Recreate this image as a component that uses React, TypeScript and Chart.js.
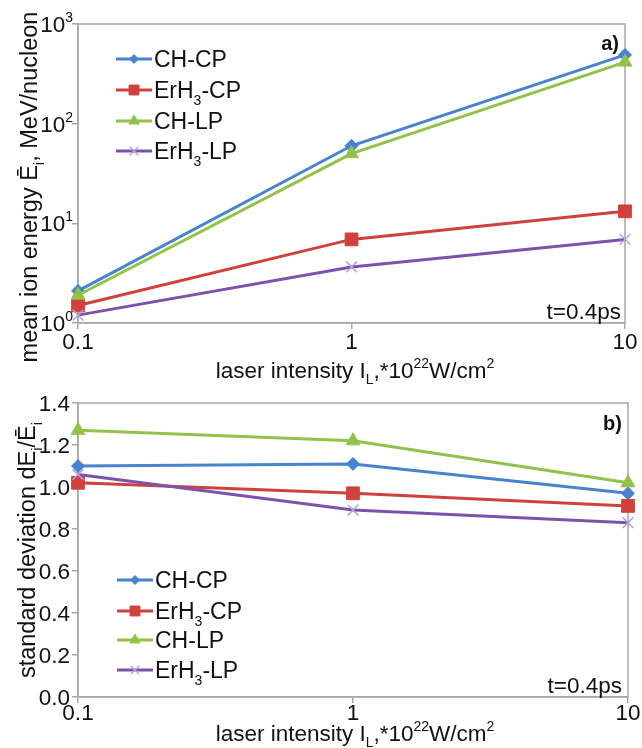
import { useEffect, useRef } from 'react';
import { Chart, registerables } from 'chart.js';
import { drawPoint } from 'chart.js/helpers';

Chart.register(...registerables);

// Laser intensity, in units of 10^22 W/cm^2
const intensity = [0.1, 1, 10];
const xTickValues = [0.1, 1, 10];

// a) mean ion energy, MeV/nucleon
const meanCHCP = [2.1, 60, 490];
const meanErH3CP = [1.5, 6.9, 13.2];
const meanCHLP = [1.9, 50, 415];
const meanErH3LP = [1.2, 3.65, 6.9];
const meanTickValues = [1, 10, 100, 1000];

// b) relative standard deviation dE/E
const sdCHCP = [1.1, 1.11, 0.97];
const sdErH3CP = [1.02, 0.97, 0.91];
const sdCHLP = [1.27, 1.22, 1.02];
const sdErH3LP = [1.06, 0.89, 0.83];
const sdTickValues = [0, 0.2, 0.4, 0.6, 0.8, 1.0, 1.2, 1.4];

const timeLabel = 't=0.4ps';

type Seg = { t: string; v?: 'sub' | 'sup' };

const FONT = '"Liberation Sans", Arial, sans-serif';
const TEXT = '#111111';
const AXIS = '#a8a8a8';

type Series = {
  name: Seg[];
  color: string;
  markerColor: string;
  style: 'rectRot' | 'rect' | 'triangle' | 'crossRot';
  radius: number;
  legendRadius: number;
  markerBorder: number;
};

const seriesStyles: Series[] = [
  { name: [{ t: 'CH-CP' }], color: '#4783cf', markerColor: '#4783cf', style: 'rectRot', radius: 6.5, legendRadius: 4.5, markerBorder: 1 },
  { name: [{ t: 'ErH' }, { t: '3', v: 'sub' }, { t: '-CP' }], color: '#d0403d', markerColor: '#d0403d', style: 'rect', radius: 9, legendRadius: 7, markerBorder: 1 },
  { name: [{ t: 'CH-LP' }], color: '#92c24a', markerColor: '#92c24a', style: 'triangle', radius: 8, legendRadius: 6, markerBorder: 1 },
  { name: [{ t: 'ErH' }, { t: '3', v: 'sub' }, { t: '-LP' }], color: '#7c52ad', markerColor: '#b7a2da', style: 'crossRot', radius: 7.5, legendRadius: 6, markerBorder: 1.5 },
];

function segFont(size: number, v: Seg['v'], bold: boolean) {
  const s = v ? Math.round(size * 0.62) : size;
  return `${bold ? 'bold ' : ''}${s}px ${FONT}`;
}

function richWidth(ctx: CanvasRenderingContext2D, segs: Seg[], size: number, bold: boolean) {
  let w = 0;
  for (const s of segs) {
    ctx.font = segFont(size, s.v, bold);
    w += ctx.measureText(s.t).width;
  }
  return w;
}

// Draws a run of text with sub/superscript pieces; y is the vertical centre of the capitals.
function drawRich(
  ctx: CanvasRenderingContext2D,
  segs: Seg[],
  x: number,
  y: number,
  align: 'left' | 'center' | 'right',
  size: number,
  bold = false,
) {
  const w = richWidth(ctx, segs, size, bold);
  let cx = align === 'left' ? x : align === 'right' ? x - w : x - w / 2;
  const base = y + size * 0.36;
  ctx.textAlign = 'left';
  ctx.textBaseline = 'alphabetic';
  ctx.fillStyle = TEXT;
  for (const s of segs) {
    ctx.font = segFont(size, s.v, bold);
    const dy = s.v === 'sub' ? size * 0.28 : s.v === 'sup' ? -size * 0.45 : 0;
    ctx.fillText(s.t, cx, base + dy);
    cx += ctx.measureText(s.t).width;
  }
}

type PanelText = {
  yTitle: Seg[];
  yTitleX: number;
  yTitleY: number;
  xTitle: Seg[];
  xTitleX: number;
  xTitleY: number;
  xTickY: number;
  yTickRight: number;
  yTickLabel: (v: number) => Seg[];
  tag: string;
  tagX: number;
  tagY: number;
  timeX: number;
  timeY: number;
  legendY: number[];
  legendX0: number;
  legendX1: number;
  legendTextX: number;
};

const xTitle: Seg[] = [
  { t: 'laser intensity I' },
  { t: 'L', v: 'sub' },
  { t: ',*10' },
  { t: '22', v: 'sup' },
  { t: 'W/cm' },
  { t: '2', v: 'sup' },
];

const TICK_SIZE = 22.5;
const TITLE_SIZE = 22.5;
const LEGEND_SIZE = 23;

function panelPlugin(id: string, p: PanelText) {
  return {
    id,
    beforeDatasetsDraw(chart: Chart) {
      const { ctx, chartArea: a } = chart;
      ctx.save();
      ctx.strokeStyle = AXIS;
      ctx.lineWidth = 1.5;
      ctx.strokeRect(a.left, a.top, a.right - a.left, a.bottom - a.top);
      ctx.restore();
    },
    afterDraw(chart: Chart) {
      const { ctx } = chart;
      const xs = chart.scales.x;
      const ys = chart.scales.y;
      ctx.save();
      // tick labels
      for (const t of xs.ticks) {
        drawRich(ctx, [{ t: String(t.value) }], xs.getPixelForValue(t.value), p.xTickY, 'center', TICK_SIZE);
      }
      for (const t of ys.ticks) {
        drawRich(ctx, p.yTickLabel(t.value), p.yTickRight, ys.getPixelForValue(t.value), 'right', TICK_SIZE);
      }
      // axis titles
      drawRich(ctx, p.xTitle, p.xTitleX, p.xTitleY, 'center', TITLE_SIZE);
      ctx.save();
      ctx.translate(p.yTitleX, p.yTitleY);
      ctx.rotate(-Math.PI / 2);
      drawRich(ctx, p.yTitle, 0, 0, 'center', 23.5);
      ctx.restore();
      // panel tag and time stamp
      drawRich(ctx, [{ t: p.tag }], p.tagX, p.tagY, 'right', 20, true);
      drawRich(ctx, [{ t: timeLabel }], p.timeX, p.timeY, 'right', TICK_SIZE);
      // legend
      seriesStyles.forEach((s, i) => {
        const y = p.legendY[i];
        ctx.strokeStyle = s.color;
        ctx.lineWidth = 3;
        ctx.beginPath();
        ctx.moveTo(p.legendX0, y);
        ctx.lineTo(p.legendX1, y);
        ctx.stroke();
        ctx.fillStyle = s.markerColor;
        ctx.strokeStyle = s.markerColor;
        ctx.lineWidth = s.markerBorder;
        drawPoint(ctx, { pointStyle: s.style, radius: s.legendRadius, rotation: 0, borderWidth: s.markerBorder }, (p.legendX0 + p.legendX1) / 2, y);
        drawRich(ctx, s.name, p.legendTextX, y, 'left', LEGEND_SIZE);
      });
      ctx.restore();
    },
  };
}

function makeDatasets(values: number[][]) {
  return seriesStyles.map((s, i) => ({
    label: s.name.map((g) => g.t).join(''),
    data: intensity.map((x, j) => ({ x, y: values[i][j] })),
    // later series sit on top of earlier ones
    order: seriesStyles.length - i,
    borderColor: s.color,
    backgroundColor: s.markerColor,
    pointBackgroundColor: s.markerColor,
    pointBorderColor: s.markerColor,
    pointBorderWidth: s.markerBorder,
    pointStyle: s.style,
    pointRadius: s.radius,
    borderWidth: 3,
    tension: 0,
    clip: false as const,
  }));
}

function axisCommon() {
  return {
    border: { display: true, color: AXIS, width: 1.5 },
    grid: { display: true, drawOnChartArea: false, drawTicks: true, tickLength: 6, color: AXIS, lineWidth: 1.5 },
    ticks: { display: false },
  };
}

function makeConfig(
  values: number[][],
  yScale: Record<string, unknown>,
  paddingTop: number,
  paddingRight: number,
  xAxisHeight: number,
  plugin: ReturnType<typeof panelPlugin>,
) {
  return {
    type: 'line' as const,
    data: { datasets: makeDatasets(values) },
    options: {
      responsive: false,
      animation: false as const,
      devicePixelRatio: 1,
      layout: { padding: { top: paddingTop, right: paddingRight, left: 0, bottom: 0 } },
      plugins: { legend: { display: false }, tooltip: { enabled: false } },
      scales: {
        x: {
          type: 'logarithmic' as const,
          min: 0.1,
          max: 10,
          ...axisCommon(),
          afterBuildTicks: (s: any) => {
            s.ticks = xTickValues.map((v) => ({ value: v }));
          },
          afterFit: (s: any) => {
            s.height = xAxisHeight;
          },
        },
        y: {
          ...axisCommon(),
          ...yScale,
          afterFit: (s: any) => {
            s.width = 78;
          },
        },
      },
    },
    plugins: [plugin],
  };
}

const energyPlugin = panelPlugin('energyPanel', {
  yTitle: [{ t: 'mean ion energy Ē' }, { t: 'i', v: 'sub' }, { t: ', MeV/nucleon' }],
  yTitleX: 29,
  yTitleY: 187,
  xTitle,
  xTitleX: 355,
  xTitleY: 370,
  xTickY: 341,
  yTickRight: 73,
  yTickLabel: (v) => [{ t: '10' }, { t: String(Math.round(Math.log10(v))), v: 'sup' }],
  tag: 'a)',
  tagX: 619,
  tagY: 43,
  timeX: 621,
  timeY: 311,
  legendY: [59, 90, 121, 151],
  legendX0: 116,
  legendX1: 152,
  legendTextX: 154,
});

const spreadPlugin = panelPlugin('spreadPanel', {
  yTitle: [{ t: 'standard deviation dE' }, { t: 'i', v: 'sub' }, { t: '/Ē' }, { t: 'i', v: 'sub' }],
  yTitleX: 27,
  yTitleY: 176,
  xTitle,
  xTitleX: 355,
  xTitleY: 359,
  xTickY: 338,
  yTickRight: 70,
  yTickLabel: (v) => [{ t: v.toFixed(1) }],
  tag: 'b)',
  tagX: 622,
  tagY: 49,
  timeX: 622,
  timeY: 311,
  legendY: [206, 237, 266, 296],
  legendX0: 117,
  legendX1: 153,
  legendTextX: 155,
});

export default function App() {
  const topRef = useRef<HTMLCanvasElement>(null);
  const bottomRef = useRef<HTMLCanvasElement>(null);

  useEffect(() => {
    const energy = new Chart(
      topRef.current!,
      makeConfig(
        [meanCHCP, meanErH3CP, meanCHLP, meanErH3LP],
        {
          type: 'logarithmic',
          min: 1,
          max: 1000,
          afterBuildTicks: (s: any) => {
            s.ticks = meanTickValues.map((v) => ({ value: v }));
          },
        },
        24,
        17,
        67,
        energyPlugin,
      ) as any,
    );
    const spread = new Chart(
      bottomRef.current!,
      makeConfig(
        [sdCHCP, sdErH3CP, sdCHLP, sdErH3LP],
        {
          type: 'linear',
          min: 0,
          max: 1.4,
          afterBuildTicks: (s: any) => {
            s.ticks = sdTickValues.map((v) => ({ value: v }));
          },
        },
        29,
        14,
        51,
        spreadPlugin,
      ) as any,
    );
    return () => {
      energy.destroy();
      spread.destroy();
    };
  }, []);

  return (
    <div style={{ position: 'absolute', left: 0, top: 0, width: 642, height: 748, background: '#fff' }}>
      <canvas ref={topRef} width={642} height={390} style={{ position: 'absolute', left: 0, top: 0 }} />
      <canvas ref={bottomRef} width={642} height={374} style={{ position: 'absolute', left: 0, top: 374 }} />
    </div>
  );
}
